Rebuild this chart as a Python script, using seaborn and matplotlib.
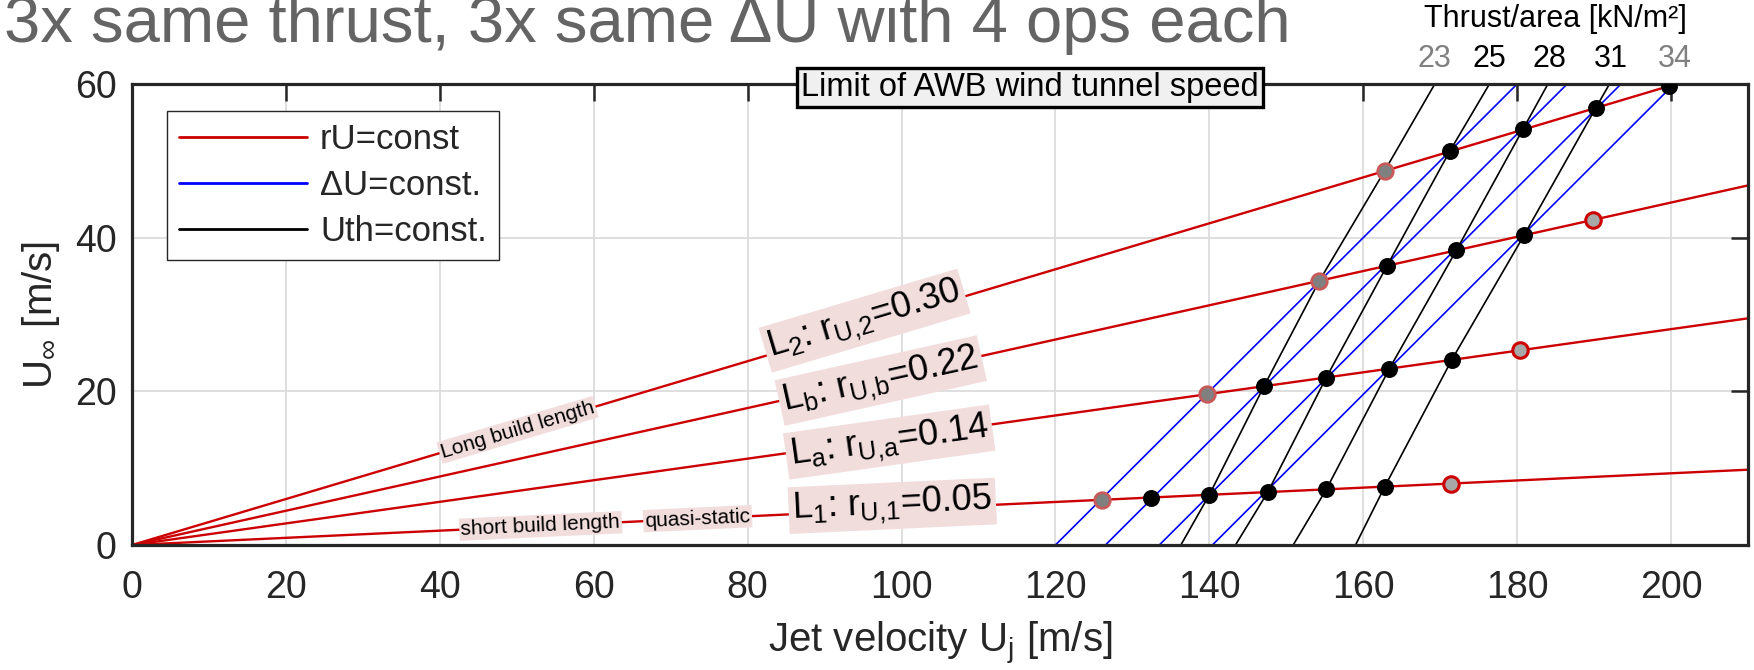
import numpy as np
import pandas as pd
import matplotlib
matplotlib.use("Agg")
import matplotlib.pyplot as plt
from matplotlib.lines import Line2D
import seaborn as sns

# ---------------- data ----------------
x_ticks = [0, 20, 40, 60, 80, 100, 120, 140, 160, 180, 200]
y_ticks = [0, 20, 40, 60]

# red lines (rU = const.) : from origin to right border
red_labels = [r"$L_2$: $r_{U{,}2}$=0.30", r"$L_b$: $r_{U{,}b}$=0.22",
              r"$L_a$: $r_{U{,}a}$=0.14", r"$L_1$: $r_{U{,}1}$=0.05"]
red_x0 = [0, 0, 0, 0]
red_y0 = [0, 0, 0, 0]
red_x1 = [210, 210, 210, 210]
red_y1 = [62.8, 46.8, 29.5, 9.8]
# label anchor on each red line
lab_x = [95.2, 97.3, 98.4, 98.8]
lab_y = [29.2, 21.4, 13.4, 5.1]

# blue lines (dU = const.)
blue_x_bottom = [120.0, 126.5, 133.5, 140.4]
blue_x_top = [180.0, 186.5, 193.5, 200.4]
blue_y_bottom = [0, 0, 0, 0]
blue_y_top = [60, 60, 60, 60]

# black curves (Uth = const.)
b23_x = [136.3, 140.0, 147.1, 154.3, 162.8, 169.3]
b23_y = [0, 6.53, 20.66, 34.39, 48.73, 60]
b25_x = [143.4, 147.6, 155.2, 163.1, 171.25, 176.4]
b25_y = [0, 6.89, 21.8, 36.35, 51.26, 60]
b28_x = [150.9, 155.2, 163.4, 172.1, 180.75, 184.0]
b28_y = [0, 7.24, 22.95, 38.35, 54.1, 60]
b31_x = [159.0, 162.8, 171.5, 180.9, 190.25, 192.0]
b31_y = [0, 7.6, 24.09, 40.32, 56.94, 60]

# operating points
black_pt_x = [132.4, 140.0, 147.6, 155.2, 162.8,
              147.1, 155.2, 163.4, 171.5,
              163.1, 172.1, 180.9,
              171.25, 180.75, 190.25, 199.7]
black_pt_y = [6.18, 6.53, 6.89, 7.24, 7.6,
              20.66, 21.8, 22.95, 24.09,
              36.35, 38.35, 40.32,
              51.26, 54.1, 56.94, 59.7]
dark_pt_x = [126.0, 139.7, 154.3, 162.8]
dark_pt_y = [5.88, 19.62, 34.39, 48.73]
light_pt_x = [171.4, 180.4, 189.9]
light_pt_y = [8.0, 25.34, 42.32]

# thrust labels at top
thrust_labels = ["23", "25", "28", "31", "34"]
thrust_x = [169.3, 176.4, 184.2, 192.2, 200.5]
thrust_colors = ["#808080", "black", "black", "black", "#808080"]

# small annotations
small_labels = ["Long build length", "short build length", "quasi-static"]
small_x = [50.1, 53.1, 73.5]
small_line = [0, 3, 3]  # index of red line carrying the label

legend_labels = ["rU=const", "\u0394U=const.", "Uth=const."]
title = "3x same thrust, 3x same \u0394U with 4 ops each"

# ---------------- styling ----------------
sns.set_theme(style="white")
plt.rcParams["font.family"] = ["Liberation Sans", "DejaVu Sans"]
plt.rcParams["mathtext.default"] = "regular"

W, H = 1754, 670
fig = plt.figure(figsize=(W / 100, H / 100), dpi=100)
ax = fig.add_axes([132 / W, 1 - 545 / H, 1616 / W, 461 / H])

RED = "#cc0000"
BLUE = "#0000ff"
DARK = "#262626"

# red lines
for i in range(4):
    sns.lineplot(x=[red_x0[i], red_x1[i]], y=[red_y0[i], red_y1[i]], ax=ax,
                 color=RED, lw=1.7, sort=False, estimator=None, zorder=3)
# blue lines
for i in range(4):
    sns.lineplot(x=[blue_x_bottom[i], blue_x_top[i]], y=[blue_y_bottom[i], blue_y_top[i]],
                 ax=ax, color=BLUE, lw=1.2, sort=False, estimator=None, zorder=2.6)
# black curves
for bx, by in [(b23_x, b23_y), (b25_x, b25_y), (b28_x, b28_y), (b31_x, b31_y)]:
    sns.lineplot(x=bx, y=by, ax=ax, color="black", lw=1.2, sort=False,
                 estimator=None, zorder=2.7)

# markers
sns.scatterplot(x=black_pt_x, y=black_pt_y, ax=ax, s=125, color="black",
                edgecolor="black", linewidth=1, zorder=5)
sns.scatterplot(x=dark_pt_x, y=dark_pt_y, ax=ax, s=125, color="#808080",
                edgecolor="#c85a5a", linewidth=2, zorder=5)
sns.scatterplot(x=light_pt_x, y=light_pt_y, ax=ax, s=125, color="#a8a8a8",
                edgecolor=RED, linewidth=2.2, zorder=5)

ax.set_xlim(0, 210)
ax.set_ylim(0, 60)
ax.set_xticks(x_ticks)
ax.set_yticks(y_ticks)
ax.grid(True, color="#dcdcdc", lw=1.3, zorder=0)
ax.set_axisbelow(True)
for sp in ax.spines.values():
    sp.set_color(DARK)
    sp.set_linewidth(2.3)
    sp.set_zorder(4)
ax.tick_params(direction="in", length=12.5, width=1.8, color=DARK,
               top=True, right=True, labelsize=27, labelcolor=DARK)
ax.tick_params(axis="x", pad=18)
ax.tick_params(axis="y", pad=11)

ax.set_xlabel(r"Jet velocity $U_j$ [m/s]", fontsize=29, color=DARK, labelpad=10)
ax.set_ylabel(r"$U_\infty$ [m/s]", fontsize=29, color=DARK, labelpad=9)

# labels on red lines
PINK = "#f2dddd"
for i in range(4):
    slope = red_y1[i] / red_x1[i]
    ang = np.degrees(np.arctan(slope))
    ax.text(lab_x[i], lab_y[i], red_labels[i], fontsize=26, color="black",
            ha="center", va="center", rotation=ang, rotation_mode="anchor",
            transform_rotates_text=True, zorder=6,
            bbox=dict(boxstyle="square,pad=0.1", fc=PINK, ec="none"))
for lbl, sx, li in zip(small_labels, small_x, small_line):
    slope = red_y1[li] / red_x1[li]
    ang = np.degrees(np.arctan(slope))
    ax.text(sx, slope * sx, lbl, fontsize=15, color="black",
            ha="center", va="center", rotation=ang, rotation_mode="anchor",
            transform_rotates_text=True, zorder=6,
            bbox=dict(boxstyle="square,pad=0.08", fc=PINK, ec="none"))

# wind tunnel limit box
ax.text(116.7, 59.55, "Limit of AWB wind tunnel speed", fontsize=23.5, color="black",
        ha="center", va="center", zorder=10, clip_on=False,
        bbox=dict(boxstyle="square,pad=0.13", fc="#f0f0f0", ec="black", lw=2.4))

# thrust labels
for t, tx, tc in zip(thrust_labels, thrust_x, thrust_colors):
    ax.text(tx, 63.2, t, fontsize=22, color=tc, ha="center", va="center", clip_on=False)
ax.text(185.0, 68.4, "Thrust/area [kN/m\u00b2]", fontsize=22, color="black",
        ha="center", va="center", clip_on=False)

# legend
handles = [Line2D([0], [0], color=RED, lw=2.0),
           Line2D([0], [0], color=BLUE, lw=2.0),
           Line2D([0], [0], color="black", lw=2.0)]
leg = ax.legend(handles, legend_labels,
                loc="upper left", bbox_to_anchor=(35 / 1616, 1 - 27 / 461),
                borderaxespad=0, fontsize=25, handlelength=3.7, handletextpad=0.37,
                labelspacing=0.38, borderpad=0.34, fancybox=False, framealpha=1,
                edgecolor=DARK)
leg.get_frame().set_linewidth(1.0)
leg.set_zorder(8)

# title (its top is clipped by the figure edge, as in the reference)
fig.text(4 / W, 1 - 42 / H, title, fontsize=47, color="#646464",
         ha="left", va="baseline")

fig.savefig("out.png", dpi=100)
